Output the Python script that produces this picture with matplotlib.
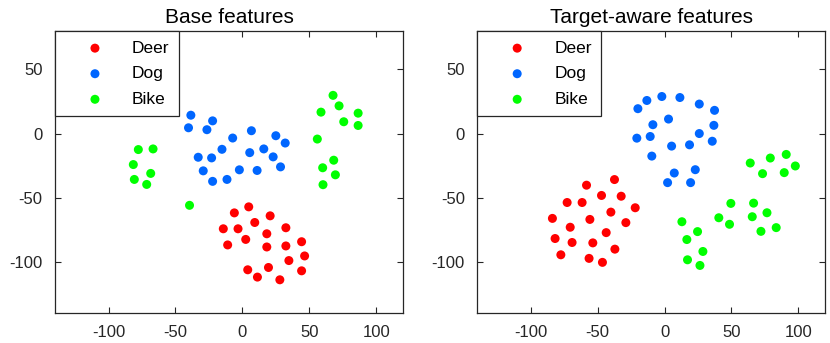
import matplotlib
matplotlib.use("Agg")
import matplotlib.pyplot as plt
import numpy as np

plt.rcParams['font.family'] = ['Liberation Sans', 'DejaVu Sans']
plt.rcParams['axes.unicode_minus'] = False

# ---- data: Base features ----
base_deer_x = [4.75, -6, 20.75, 9.25, -14.25, -3.25, 32.5, 18.25, 2.5, 44.25,
               -11, 18.25, 32.5, 46.5, 34.75, 4, 19.5, 44.25, 11.25, 28]
base_deer_y = [-57.2, -61.9, -64.2, -69.4, -74.3, -74.3, -73.5, -78.2, -82.6, -84.4,
               -86.9, -88.5, -87.7, -95.5, -99.1, -106.3, -104.5, -107.1, -112.0, -114.1]
base_dog_x = [-38.5, -22.25, -40.25, -26.5, 6.75, -7.25, 25, 32, -15.25, 5.5,
              16, -33, -23, 23, -29.25, -2.25, 11, 28.5, -22.25, -11.5]
base_dog_y = [14.3, 9.9, 4.5, 3.0, 2.2, -3.5, -1.7, -7.4, -12.3, -14.9,
              -12.0, -18.5, -19.0, -18.2, -29.1, -28.3, -28.8, -26.0, -37.3, -35.8]
base_bike_x = [-77.75, -66.75, -81.5, -68.5, -80.75, -71.5, -39.5, 67.75, 72.25, 58.75,
               86.5, 75.75, 86.5, 56, 68.25, 60, 69.5, 60.25]
base_bike_y = [-12.5, -12.0, -24.2, -31.1, -35.8, -39.7, -56.0, 29.8, 21.6, 16.7,
               15.9, 9.2, 6.3, -4.3, -20.8, -26.7, -32.2, -39.9]

# ---- data: Target-aware features ----
ta_deer_x = [-37.4, -58.3, -47.1, -32.4, -72.8, -61.6, -21.9, -40.1, -83.8, -55.8,
             -28.9, -70.5, -43.6, -81.8, -69.1, -53.6, -37.1, -77.5, -56.4, -46.4]
ta_deer_y = [-35.9, -40.3, -48.3, -48.9, -53.8, -53.8, -57.9, -61.3, -66.2, -67.0,
             -69.5, -73.1, -77.3, -81.9, -85.0, -85.3, -90.2, -94.6, -97.4, -100.5]
ta_dog_x = [-19.9, -13.2, -2.0, 11.5, 26.0, 37.4, -8.7, 3.0, 36.9, 26.0,
            -20.7, -10.7, 5.3, 18.7, 35.7, -9.5, 7.3, 23.0, 2.3, 19.5]
ta_dog_y = [19.4, 25.8, 28.9, 28.1, 23.0, 18.1, 6.9, 11.3, 6.4, 0.0,
            -3.6, -2.3, -9.8, -8.8, -6.0, -17.6, -30.8, -28.2, -38.3, -38.3]
ta_bike_x = [64.1, 79.1, 91.0, 73.3, 89.5, 97.8, 49.6, 66.6, 76.6, 40.6,
             48.6, 65.6, 72.1, 83.5, 13.0, 24.7, 16.7, 28.7, 17.2, 26.5]
ta_bike_y = [-23.0, -19.1, -16.3, -31.3, -30.5, -25.3, -54.5, -54.3, -61.8, -65.7,
             -70.8, -64.9, -76.3, -73.4, -68.8, -76.5, -82.7, -92.0, -98.5, -102.9]

titles = ["Base features", "Target-aware features"]
labels = ["Deer", "Dog", "Bike"]
colors = ["#ff0000", "#0066ff", "#00ff00"]
xticks = [-100, -50, 0, 50, 100]
yticks = [-100, -50, 0, 50]

panels = [
    [(base_deer_x, base_deer_y), (base_dog_x, base_dog_y), (base_bike_x, base_bike_y)],
    [(ta_deer_x, ta_deer_y), (ta_dog_x, ta_dog_y), (ta_bike_x, ta_bike_y)],
]

fig = plt.figure(figsize=(8.3, 3.43), dpi=100)
positions = [[0.0663, 0.0875, 0.4192, 0.8221], [0.5750, 0.0875, 0.4190, 0.8221]]
spine_col = "#262626"

for pos, title, data in zip(positions, titles, panels):
    ax = fig.add_axes(pos)
    for (xs, ys), lab, col in zip(data, labels, colors):
        ax.scatter(xs, ys, s=42, c=col, edgecolors='none', label=lab)
    ax.set_xlim(-140, 120)
    ax.set_ylim(-140, 80)
    ax.set_xticks(xticks)
    ax.set_yticks(yticks)
    ax.tick_params(direction='in', top=True, right=True, length=4, width=0.8,
                   labelsize=12, colors=spine_col, pad=9)
    for sp in ax.spines.values():
        sp.set_color(spine_col)
        sp.set_linewidth(0.9)
    ax.set_title(title, fontsize=15, color='black', pad=6)
    leg = ax.legend(loc='upper left', borderaxespad=0, fancybox=False,
                    edgecolor=spine_col, framealpha=1, fontsize=12.5,
                    handletextpad=0.38, borderpad=0.55, labelspacing=0.6,
                    handlelength=3.5, scatterpoints=1, markerscale=1.0)
    leg.get_frame().set_linewidth(0.9)

fig.savefig("out.png", dpi=100)
